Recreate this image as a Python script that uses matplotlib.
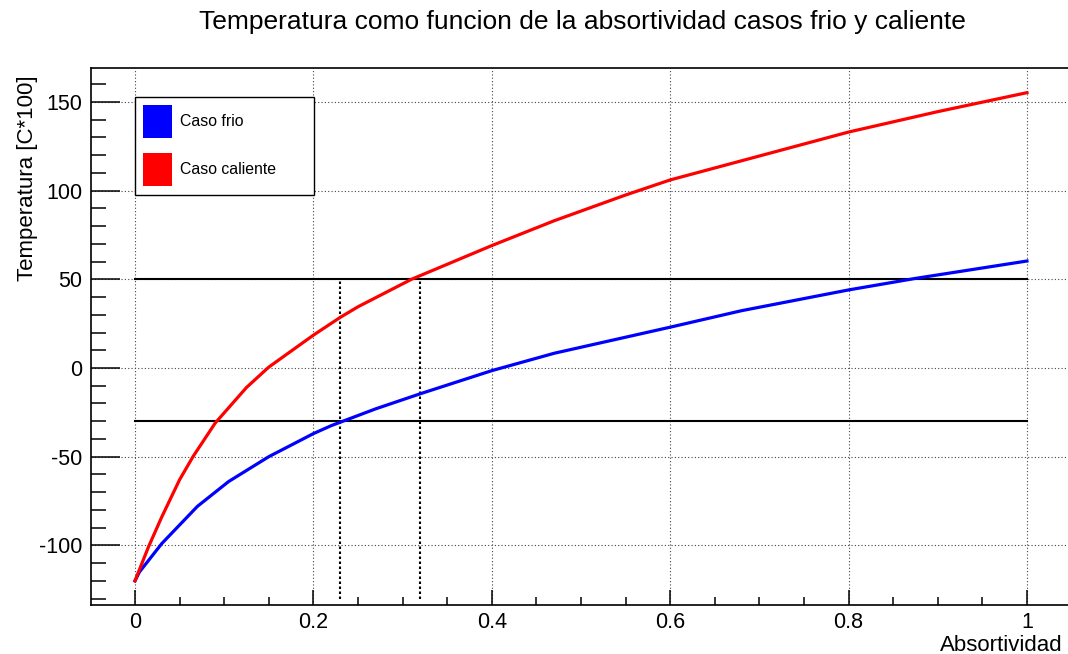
import numpy as np
import matplotlib
matplotlib.use('Agg')
import matplotlib.pyplot as plt
from matplotlib.patches import Rectangle
from matplotlib.ticker import MultipleLocator

plt.rc('font', family=['Liberation Sans', 'DejaVu Sans'], size=14)
plt.rc('axes', unicode_minus=False)

# absortividad vs temperatura
x_frio = [0, 0.005, 0.03, 0.07, 0.105, 0.15, 0.2, 0.22, 0.27, 0.32, 0.4,
          0.47, 0.6, 0.68, 0.8, 0.875, 1.0]
t_frio = [-120, -115, -99, -78, -64, -50, -37, -32.5, -23, -14.5, -1.5,
          8.3, 23, 32.3, 44, 50.5, 60.3]

x_cal = [0, 0.015, 0.03, 0.05, 0.065, 0.09, 0.125, 0.15, 0.2, 0.23, 0.25,
         0.31, 0.4, 0.47, 0.55, 0.6, 0.7, 0.8, 0.9, 1.0]
t_cal = [-120, -101, -84, -63, -50, -31, -11, 0.5, 18.5, 28.5, 34.5,
         50, 69, 83, 97.5, 106, 119.5, 133, 144.5, 155.2]

limites = [50, -30]      # lineas horizontales
cortes = [0.23, 0.32]    # lineas verticales punteadas
etiquetas = ['Caso frio', 'Caso caliente']
colores = ['#0000ff', '#ff0000']

W, H = 1068, 654
fig = plt.figure(figsize=(W/100, H/100), dpi=100)
ax = fig.add_axes([91/W, 1-605/H, 1-91/W, (605-68)/H])

ax.plot(x_frio, t_frio, color=colores[0], lw=2.3, zorder=5)
ax.plot(x_cal, t_cal, color=colores[1], lw=2.3, zorder=5)
for y in limites:
    ax.plot([0, 1], [y, y], color='k', lw=1.5, zorder=4)
for xc in cortes:
    ax.plot([xc, xc], [-130, 50], color='k', lw=1.5, ls=(0, (1.2, 1.2)), zorder=4)

ax.set_xlim(-0.0493, 1.046)
ax.set_ylim(-133.6, 169.1)
ax.xaxis.set_minor_locator(MultipleLocator(0.05))
ax.yaxis.set_major_locator(MultipleLocator(50))
ax.yaxis.set_minor_locator(MultipleLocator(10))
ax.set_xticks([0, 0.2, 0.4, 0.6, 0.8, 1.0])
ax.set_xticklabels(['0', '0.2', '0.4', '0.6', '0.8', '1'])
ax.tick_params(which='both', direction='in', top=False, right=False, width=1.1, labelsize=15.5)
ax.tick_params(axis='x', which='major', length=11, pad=5)
ax.tick_params(axis='x', which='minor', length=6)
ax.tick_params(axis='y', which='major', length=21, pad=6)
ax.tick_params(axis='y', which='minor', length=11)
ax.grid(True, which='major', color='#444444', ls=(0, (1, 2)), lw=0.8)
ax.spines['right'].set_visible(False)
for s in ['left', 'bottom', 'top']:
    ax.spines[s].set_linewidth(1.2)

fig.text(582/W, 1-22/H, 'Temperatura como funcion de la absortividad casos frio y caliente',
         ha='center', va='center', fontsize=19)
fig.text(28/W, 1-75/H, 'Temperatura [C*100]', rotation=90, ha='center', va='top', fontsize=16)
fig.text(1063/W, 1-651/H, 'Absortividad', ha='right', va='baseline', fontsize=16)

# leyenda
fig.patches.append(Rectangle((135/W, 1-195/H), (314-135)/W, (195-97)/H,
                             transform=fig.transFigure, fill=True, facecolor='white',
                             edgecolor='k', lw=1.0, zorder=10))
for i, (lab, c) in enumerate(zip(etiquetas, colores)):
    y0 = 105 + i*48
    fig.patches.append(Rectangle((143/W, 1-(y0+33)/H), 29/W, 33/H,
                                 transform=fig.transFigure, facecolor=c,
                                 edgecolor='none', zorder=11))
    fig.text(180/W, 1-(y0+17)/H, lab, ha='left', va='center', fontsize=11.4, zorder=12)

fig.savefig('out.png', dpi=100)
